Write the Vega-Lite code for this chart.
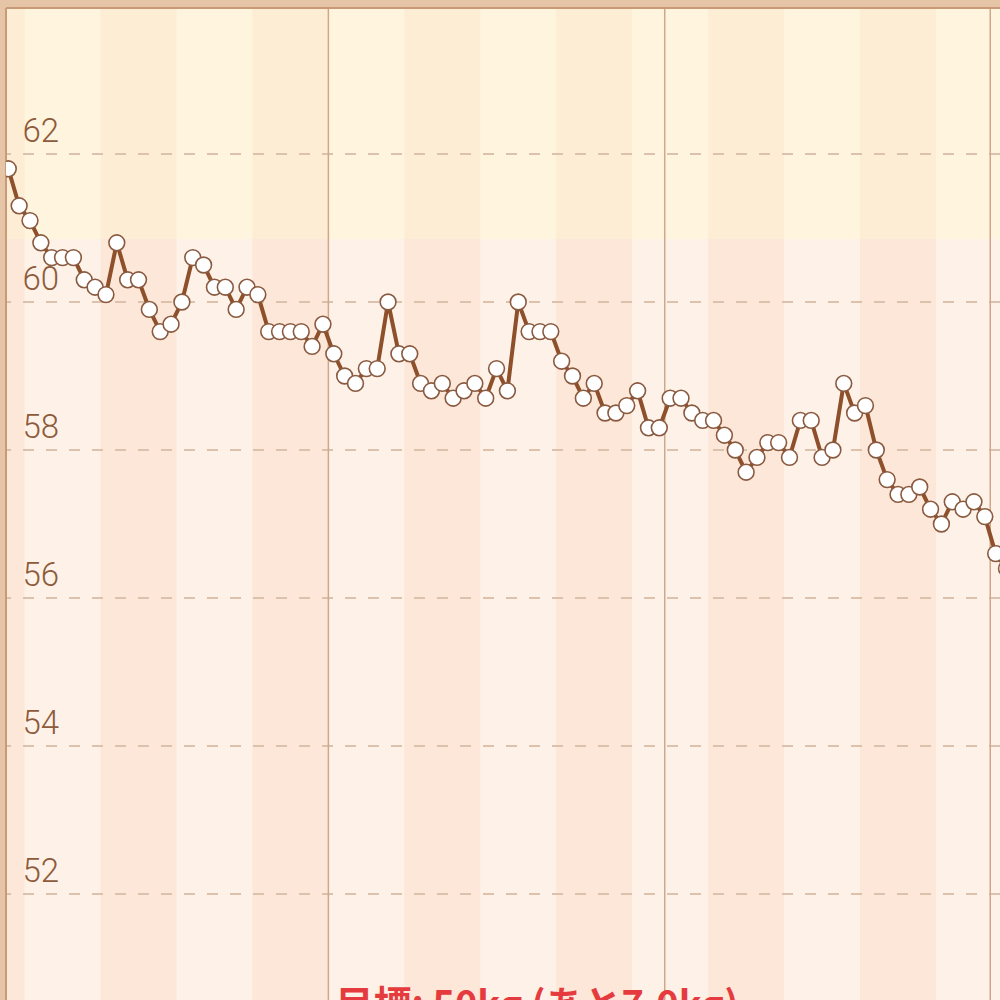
{
  "$schema": "https://vega.github.io/schema/vega-lite/v6.json",
  "width": 994,
  "height": 992,
  "autosize": {"type": "none"},
  "padding": {"left": 6, "top": 8, "right": 0, "bottom": 0},
  "background": "#e6c4a6",
  "config": {"view": {"stroke": null, "fill": "#fef2e8"}},
  "datasets": {
    "weights": [
      {"day": 0, "kg": 61.8}, {"day": 1, "kg": 61.3}, {"day": 2, "kg": 61.1}, {"day": 3, "kg": 60.8},
      {"day": 4, "kg": 60.6}, {"day": 5, "kg": 60.6}, {"day": 6, "kg": 60.6}, {"day": 7, "kg": 60.3},
      {"day": 8, "kg": 60.2}, {"day": 9, "kg": 60.1}, {"day": 10, "kg": 60.8}, {"day": 11, "kg": 60.3},
      {"day": 12, "kg": 60.3}, {"day": 13, "kg": 59.9}, {"day": 14, "kg": 59.6}, {"day": 15, "kg": 59.7},
      {"day": 16, "kg": 60.0}, {"day": 17, "kg": 60.6}, {"day": 18, "kg": 60.5}, {"day": 19, "kg": 60.2},
      {"day": 20, "kg": 60.2}, {"day": 21, "kg": 59.9}, {"day": 22, "kg": 60.2}, {"day": 23, "kg": 60.1},
      {"day": 24, "kg": 59.6}, {"day": 25, "kg": 59.6}, {"day": 26, "kg": 59.6}, {"day": 27, "kg": 59.6},
      {"day": 28, "kg": 59.4}, {"day": 29, "kg": 59.7}, {"day": 30, "kg": 59.3}, {"day": 31, "kg": 59.0},
      {"day": 32, "kg": 58.9}, {"day": 33, "kg": 59.1}, {"day": 34, "kg": 59.1}, {"day": 35, "kg": 60.0},
      {"day": 36, "kg": 59.3}, {"day": 37, "kg": 59.3}, {"day": 38, "kg": 58.9}, {"day": 39, "kg": 58.8},
      {"day": 40, "kg": 58.9}, {"day": 41, "kg": 58.7}, {"day": 42, "kg": 58.8}, {"day": 43, "kg": 58.9},
      {"day": 44, "kg": 58.7}, {"day": 45, "kg": 59.1}, {"day": 46, "kg": 58.8}, {"day": 47, "kg": 60.0},
      {"day": 48, "kg": 59.6}, {"day": 49, "kg": 59.6}, {"day": 50, "kg": 59.6}, {"day": 51, "kg": 59.2},
      {"day": 52, "kg": 59.0}, {"day": 53, "kg": 58.7}, {"day": 54, "kg": 58.9}, {"day": 55, "kg": 58.5},
      {"day": 56, "kg": 58.5}, {"day": 57, "kg": 58.6}, {"day": 58, "kg": 58.8}, {"day": 59, "kg": 58.3},
      {"day": 60, "kg": 58.3}, {"day": 61, "kg": 58.7}, {"day": 62, "kg": 58.7}, {"day": 63, "kg": 58.5},
      {"day": 64, "kg": 58.4}, {"day": 65, "kg": 58.4}, {"day": 66, "kg": 58.2}, {"day": 67, "kg": 58.0},
      {"day": 68, "kg": 57.7}, {"day": 69, "kg": 57.9}, {"day": 70, "kg": 58.1}, {"day": 71, "kg": 58.1},
      {"day": 72, "kg": 57.9}, {"day": 73, "kg": 58.4}, {"day": 74, "kg": 58.4}, {"day": 75, "kg": 57.9},
      {"day": 76, "kg": 58.0}, {"day": 77, "kg": 58.9}, {"day": 78, "kg": 58.5}, {"day": 79, "kg": 58.6},
      {"day": 80, "kg": 58.0}, {"day": 81, "kg": 57.6}, {"day": 82, "kg": 57.4}, {"day": 83, "kg": 57.4},
      {"day": 84, "kg": 57.5}, {"day": 85, "kg": 57.2}, {"day": 86, "kg": 57.0}, {"day": 87, "kg": 57.3},
      {"day": 88, "kg": 57.2}, {"day": 89, "kg": 57.3}, {"day": 90, "kg": 57.1}, {"day": 91, "kg": 56.6},
      {"day": 92, "kg": 56.4}
    ],
    "weeks": [
      {"start": -5.5, "end": 1.5}, {"start": 8.5, "end": 15.5}, {"start": 22.5, "end": 29.5},
      {"start": 36.5, "end": 43.5}, {"start": 50.5, "end": 57.5}, {"start": 64.5, "end": 71.5},
      {"start": 78.5, "end": 85.5}, {"start": 92.5, "end": 99.5}
    ],
    "grid": [{"v": 52}, {"v": 54}, {"v": 56}, {"v": 58}, {"v": 60}, {"v": 62}],
    "months": [{"m": 29.5}, {"m": 60.5}, {"m": 90.5}],
    "one": [{"id": 1}]
  },
  "layer": [
    {
      "data": {"name": "one"},
      "mark": {"type": "rect", "color": "#fff4de", "clip": true},
      "encoding": {
        "x": {"datum": -5, "type": "quantitative", "scale": {"domain": [-0.212, 91.4], "nice": false, "zero": false}, "axis": null},
        "x2": {"datum": 100},
        "y": {"datum": 60.85, "type": "quantitative", "scale": {"domain": [50.568, 63.973], "nice": false, "zero": false},
              "axis": {"values": [52, 54, 56, 58, 60, 62], "format": "d", "grid": false, "domain": false, "ticks": false, "title": null,
                       "labelAlign": "left", "labelPadding": -16, "labelBaseline": "alphabetic", "labelOffset": -13,
                       "labelFontSize": 33, "labelFont": "Roboto", "labelFontWeight": 300, "labelColor": "#8d5b3b", "zindex": 1}},
        "y2": {"datum": 64.5}
      }
    },
    {
      "data": {"name": "weeks"},
      "mark": {"type": "rect", "color": "#fdedd4", "clip": true},
      "encoding": {
        "x": {"field": "start", "type": "quantitative"},
        "x2": {"field": "end"},
        "y": {"datum": 60.85, "type": "quantitative"},
        "y2": {"datum": 64.5}
      }
    },
    {
      "data": {"name": "weeks"},
      "mark": {"type": "rect", "color": "#fde7d8", "clip": true},
      "encoding": {
        "x": {"field": "start", "type": "quantitative"},
        "x2": {"field": "end"},
        "y": {"datum": 49, "type": "quantitative"},
        "y2": {"datum": 60.85}
      }
    },
    {
      "data": {"name": "grid"},
      "mark": {"type": "rule", "color": "#dcc1ac", "strokeWidth": 2, "strokeDash": [11, 12]},
      "encoding": {"y": {"field": "v", "type": "quantitative"}}
    },
    {
      "data": {"name": "months"},
      "mark": {"type": "rule", "color": "#cfa78b", "strokeWidth": 1.5},
      "encoding": {"x": {"field": "m", "type": "quantitative"}}
    },
    {
      "data": {"name": "one"},
      "mark": {"type": "rule", "color": "#c99a78", "strokeWidth": 2},
      "encoding": {"x": {"datum": -0.212, "type": "quantitative"}}
    },
    {
      "data": {"name": "one"},
      "mark": {"type": "rule", "color": "#c99a78", "strokeWidth": 2},
      "encoding": {"y": {"datum": 63.973, "type": "quantitative"}}
    },
    {
      "data": {"name": "weights"},
      "mark": {"type": "line", "color": "#8e4f2b", "strokeWidth": 4, "clip": true},
      "encoding": {
        "x": {"field": "day", "type": "quantitative"},
        "y": {"field": "kg", "type": "quantitative"}
      }
    },
    {
      "data": {"name": "weights"},
      "mark": {"type": "point", "filled": false, "fill": "#ffffff", "fillOpacity": 1, "stroke": "#8a5a40", "strokeWidth": 1.6, "opacity": 1, "size": 250, "clip": true},
      "encoding": {
        "x": {"field": "day", "type": "quantitative"},
        "y": {"field": "kg", "type": "quantitative"}
      }
    },
    {
      "data": {"name": "one"},
      "mark": {"type": "text", "text": "目標: 50kg (あと7.0kg)", "font": "Noto Sans CJK JP", "fontSize": 38, "fontWeight": "bold", "color": "#e63b3e", "align": "center", "baseline": "top"},
      "encoding": {
        "x": {"datum": 48.73, "type": "quantitative"},
        "y": {"datum": 50.73, "type": "quantitative"}
      }
    }
  ]
}
